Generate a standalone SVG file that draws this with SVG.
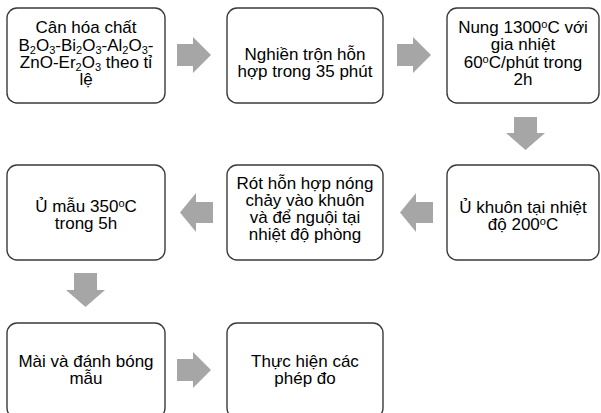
<svg xmlns="http://www.w3.org/2000/svg" width="601" height="413" viewBox="0 0 601 413">
<style>
.box{fill:#fff;stroke:#3a3a3a;stroke-width:1.4}
.t{font-family:"Liberation Sans",Arial,sans-serif;font-size:17px;fill:#000;text-anchor:middle}
.s{font-size:11px}
.arr{fill:#a6a6a6;stroke:none}
</style>
<rect width="601" height="413" fill="#fff"/>
<g id="n1">
<rect class="box" x="7" y="8" width="158" height="95" rx="10"/>
<text class="t"><tspan x="86" y="33">Cân hóa chất</tspan><tspan x="86" y="51">B<tspan class="s" dy="3">2</tspan><tspan dy="-3">O</tspan><tspan class="s" dy="3">3</tspan><tspan dy="-3">-Bi</tspan><tspan class="s" dy="3">2</tspan><tspan dy="-3">O</tspan><tspan class="s" dy="3">3</tspan><tspan dy="-3">-Al</tspan><tspan class="s" dy="3">2</tspan><tspan dy="-3">O</tspan><tspan class="s" dy="3">3</tspan><tspan dy="-3">-</tspan></tspan><tspan x="86" y="68">ZnO-Er<tspan class="s" dy="3">2</tspan><tspan dy="-3">O</tspan><tspan class="s" dy="3">3</tspan><tspan dy="-3"> theo tỉ</tspan></tspan><tspan x="86" y="85">lệ</tspan></text>
</g>
<g id="n2">
<rect class="box" x="227" y="8" width="156" height="95" rx="10"/>
<text class="t"><tspan x="305" y="60">Nghiền trộn hỗn</tspan><tspan x="305" y="77">hợp trong 35 phút</tspan></text>
</g>
<g id="n3">
<rect class="box" x="447" y="8" width="152" height="95" rx="10"/>
<text class="t"><tspan x="523" y="33">Nung 1300<tspan class="s" dy="-5">o</tspan><tspan dy="5">C với</tspan></tspan><tspan x="523" y="50">gia nhiệt</tspan><tspan x="523" y="68">60<tspan class="s" dy="-5">o</tspan><tspan dy="5">C/phút trong</tspan></tspan><tspan x="523" y="85">2h</tspan></text>
</g>
<g id="n4">
<rect class="box" x="7" y="165" width="158" height="95" rx="10"/>
<text class="t"><tspan x="86" y="212">Ủ mẫu 350<tspan class="s" dy="-5">o</tspan><tspan dy="5">C</tspan></tspan><tspan x="86" y="229">trong 5h</tspan></text>
</g>
<g id="n5">
<rect class="box" x="227" y="165" width="156" height="95" rx="10"/>
<text class="t"><tspan x="305" y="189">Rót hỗn hợp nóng</tspan><tspan x="305" y="206">chảy vào khuôn</tspan><tspan x="305" y="223">và để nguội tại</tspan><tspan x="305" y="240">nhiệt độ phòng</tspan></text>
</g>
<g id="n6">
<rect class="box" x="447" y="165" width="152" height="95" rx="10"/>
<text class="t"><tspan x="523" y="213">Ủ khuôn tại nhiệt</tspan><tspan x="523" y="230">độ 200<tspan class="s" dy="-5">o</tspan><tspan dy="5">C</tspan></tspan></text>
</g>
<g id="n7">
<rect class="box" x="7" y="323" width="158" height="95" rx="10"/>
<text class="t"><tspan x="86" y="367">Mài và đánh bóng</tspan><tspan x="86" y="384">mẫu</tspan></text>
</g>
<g id="n8">
<rect class="box" x="227" y="323" width="156" height="95" rx="10"/>
<text class="t"><tspan x="305" y="367">Thực hiện các</tspan><tspan x="305" y="384">phép đo</tspan></text>
</g>
<g id="connectors">
<path class="arr" d="M177,44 H193 V37 L211,55 L193,73 V66 H177 Z"/>
<path class="arr" d="M397,44 H413 V37 L431,55 L413,73 V66 H397 Z"/>
<path class="arr" d="M514,117 H537 V133 H545 L525.5,150 L506,133 H514 Z"/>
<path class="arr" d="M433,202 H416 V193 L400,212.5 L416,232 V223 H433 Z"/>
<path class="arr" d="M213,202 H196 V193 L180,212.5 L196,232 V223 H213 Z"/>
<path class="arr" d="M74,273 H97 V290 H105 L85.5,307 L66,290 H74 Z"/>
<path class="arr" d="M177,359 H193 V352 L211,370 L193,388 V381 H177 Z"/>
</g>
</svg>
